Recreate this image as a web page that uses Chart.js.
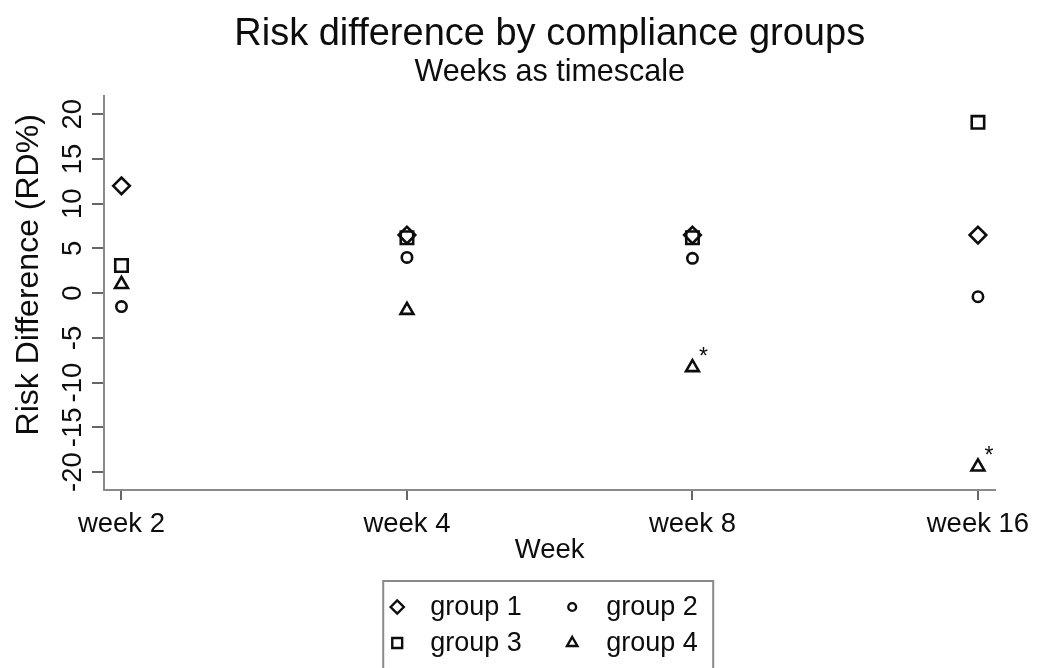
<!DOCTYPE html>
<html>
<head>
<meta charset="utf-8">
<script src="https://cdn.jsdelivr.net/npm/chart.js@4/dist/chart.umd.min.js"></script>
<style>
  html, body { margin: 0; padding: 0; background: #ffffff; }
  #wrap { width: 1038px; height: 668px; }
</style>
</head>
<body>
<div id="wrap"><canvas id="c" width="1038" height="668"></canvas></div>
<script>
// ---- data ----
const weeks = ['week 2', 'week 4', 'week 8', 'week 16'];
const groupNames = ['group 1', 'group 2', 'group 3', 'group 4'];
const group1 = [12.0, 6.5, 6.5, 6.5];
const group2 = [-1.5, 4.0, 3.9, -0.4];
const group3 = [3.1, 6.2, 6.2, 19.1];
const group4 = [1.0, -1.9, -8.3, -19.4];
const group4Notes = ['', '', '*', '*'];
const yTicks = [-20, -15, -10, -5, 0, 5, 10, 15, 20];

const FONT = '"Liberation Sans", Arial, Helvetica, sans-serif';
const INK = '#0d0d0d';

function pts(arr) { return arr.map((v, i) => ({ x: i, y: v })); }

const styles = [
  { pointStyle: 'rectRot', radius: 8.3, legendRadius: 6.6 },
  { pointStyle: 'circle', radius: 5.2, legendRadius: 3.9 },
  { pointStyle: 'rect', radius: 8.8, legendRadius: 7.0 },
  { pointStyle: 'triangle', radius: 7.4, legendRadius: 6.0 }
];
const series = [group1, group2, group3, group4];

const datasets = series.map((s, k) => ({
  label: groupNames[k],
  data: pts(s),
  pointStyle: styles[k].pointStyle,
  pointRadius: styles[k].radius,
  pointHoverRadius: styles[k].radius,
  pointBorderWidth: 2.6,
  pointBorderColor: INK,
  pointBackgroundColor: 'rgba(0,0,0,0)',
  borderColor: INK,
  backgroundColor: 'rgba(0,0,0,0)',
  showLine: false
}));

// asterisk notes next to points of group 4
const notesPlugin = {
  id: 'notes',
  afterDatasetsDraw(chart) {
    const meta = chart.getDatasetMeta(3);
    const ctx = chart.ctx;
    ctx.save();
    ctx.fillStyle = INK;
    ctx.font = '23px ' + FONT;
    ctx.textAlign = 'center';
    ctx.textBaseline = 'middle';
    group4Notes.forEach((n, i) => {
      if (!n) return;
      const el = meta.data[i];
      ctx.fillText(n, el.x + 11, el.y - 10);
    });
    ctx.restore();
  }
};

// boxed two-column legend under the axis title
const boxLegend = {
  id: 'boxLegend',
  afterDraw(chart) {
    const ctx = chart.ctx;
    const a = chart.chartArea;
    const cx = (a.left + a.right) / 2;
    const left = cx - 166.5, right = cx + 163.5;
    const top = a.bottom + 91;
    ctx.save();
    ctx.strokeStyle = '#8a8a8a';
    ctx.lineWidth = 2;
    ctx.strokeRect(left, top, right - left, 120);
    const colMarker = [left + 14, left + 189];
    const colText = [left + 47, left + 223];
    const rowY = [top + 26, top + 62];
    ctx.font = '27px ' + FONT;
    ctx.textAlign = 'left';
    ctx.textBaseline = 'alphabetic';
    for (let k = 0; k < 4; k++) {
      const r = Math.floor(k / 2), c = k % 2;
      ctx.strokeStyle = INK;
      ctx.fillStyle = 'rgba(0,0,0,0)';
      ctx.lineWidth = 2.4;
      Chart.helpers.drawPoint(ctx, {
        pointStyle: styles[k].pointStyle,
        radius: styles[k].legendRadius,
        rotation: 0,
        borderWidth: 2.4
      }, colMarker[c], rowY[r]);
      ctx.fillStyle = INK;
      ctx.fillText(groupNames[k], colText[c], rowY[r] + 8);
    }
    ctx.restore();
  }
};

new Chart(document.getElementById('c'), {
  type: 'scatter',
  data: { datasets },
  plugins: [notesPlugin, boxLegend],
  options: {
    responsive: false,
    animation: false,
    events: [],
    layout: { padding: { left: 0, right: 41, top: 0, bottom: 98 } },
    plugins: {
      legend: { display: false },
      tooltip: { enabled: false },
      title: {
        display: true,
        text: 'Risk difference by compliance groups',
        fullSize: false,
        color: INK,
        font: { family: FONT, size: 38, weight: 'normal', lineHeight: 1.1 },
        padding: { top: 13.5, bottom: 0 }
      },
      subtitle: {
        display: true,
        text: 'Weeks as timescale',
        fullSize: false,
        color: INK,
        font: { family: FONT, size: 30.5, weight: 'normal', lineHeight: 1.15 },
        padding: { top: 0, bottom: 6 }
      }
    },
    scales: {
      x: {
        type: 'linear',
        min: -0.0612,
        max: 3.0612,
        afterBuildTicks(scale) { scale.ticks = weeks.map((w, i) => ({ value: i })); },
        afterFit(scale) { scale.height = 80; },
        ticks: {
          autoSkip: false,
          maxRotation: 0,
          minRotation: 0,
          padding: 8,
          color: INK,
          font: { family: FONT, size: 27.5 },
          callback: (v) => weeks[v] !== undefined ? weeks[v] : ''
        },
        grid: { drawOnChartArea: false, drawTicks: true, tickLength: 10, color: '#666666', lineWidth: 2 },
        border: { display: true, color: '#8a8a8a', width: 2 },
        title: {
          display: true,
          text: 'Week',
          color: INK,
          font: { family: FONT, size: 27.5 },
          padding: { top: 0, bottom: 3 }
        }
      },
      y: {
        type: 'linear',
        min: -22,
        max: 22,
        afterBuildTicks(scale) { scale.ticks = yTicks.map(v => ({ value: v })); },
        afterFit(scale) { scale.width = 104; },
        ticks: {
          autoSkip: false,
          minRotation: 90,
          maxRotation: 90,
          crossAlign: 'center',
          padding: -1,
          color: INK,
          font: { family: FONT, size: 27.5 },
          callback: (v) => String(v)
        },
        grid: { drawOnChartArea: false, drawTicks: true, tickLength: 12, color: '#666666', lineWidth: 2 },
        border: { display: true, color: '#8a8a8a', width: 2 },
        title: {
          display: true,
          text: 'Risk Difference (RD%)  ',
          align: 'end',
          color: INK,
          font: { family: FONT, size: 32 },
          padding: { top: 9.5, bottom: 0 }
        }
      }
    }
  }
});
</script>
</body>
</html>
